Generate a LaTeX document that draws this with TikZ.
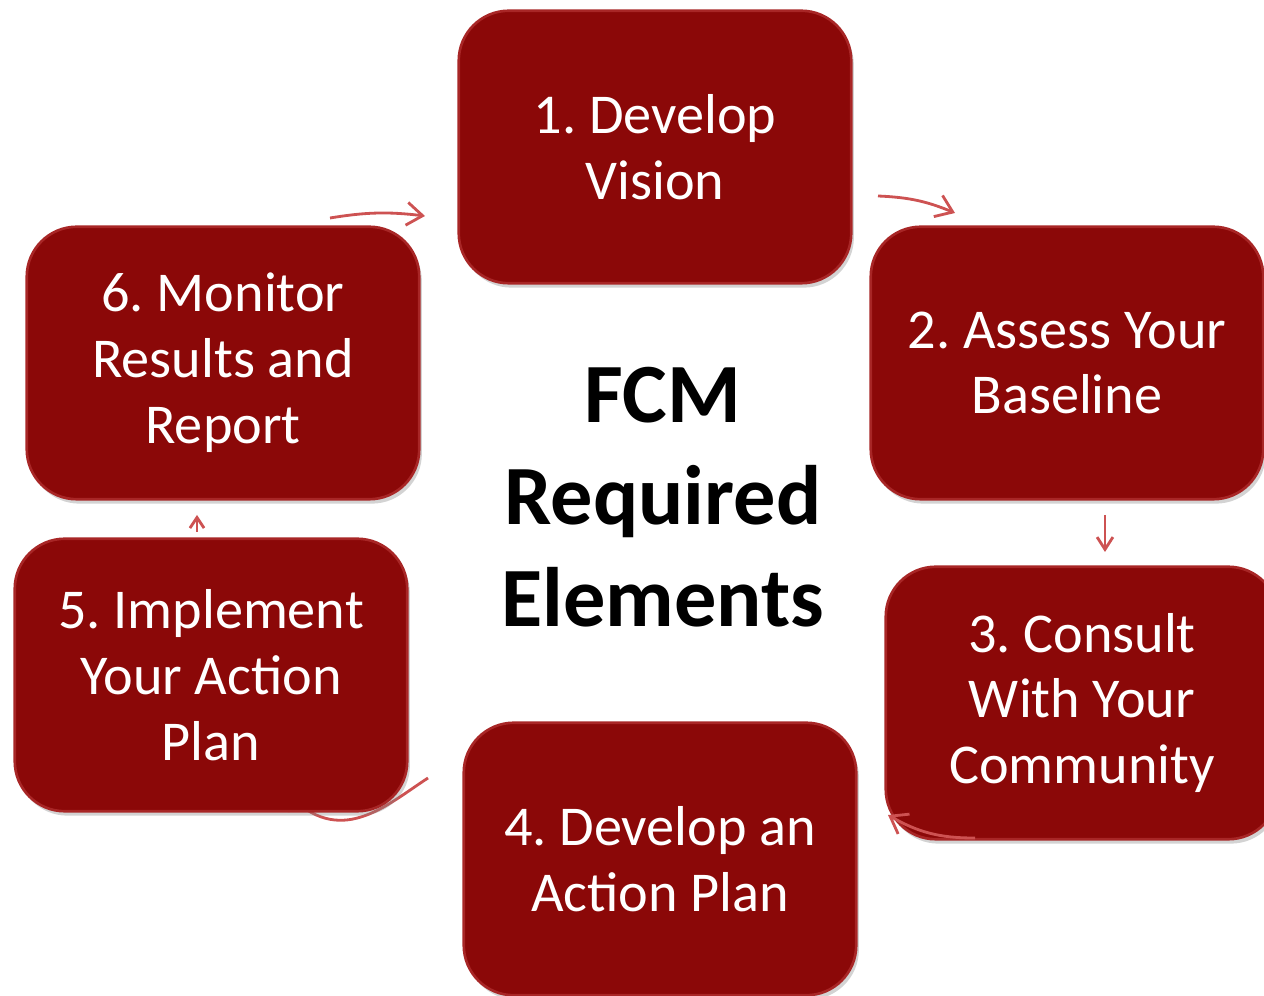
\documentclass[tikz,border=0pt]{standalone}
\usepackage{fontspec}
\setmainfont{Carlito}
\usepackage{tikz}
\usetikzlibrary{arrows.meta}
\usetikzlibrary{shadows}
\definecolor{boxred}{RGB}{139,8,8}
\definecolor{rimred}{RGB}{168,38,38}
\definecolor{arrred}{RGB}{205,82,82}
\tikzstyle{stepbox}=[draw=rimred,line width=1.5pt,fill=boxred,rounded corners=1cm,minimum width=7.85cm,minimum height=5.45cm,align=center,text=white,font=\fontsize{32}{37.5}\selectfont,drop shadow={opacity=0.35,shadow xshift=1.5pt,shadow yshift=-2.5pt}]
\tikzstyle{cyc}=[arrred,line width=1.6pt,-{Straight Barb[length=9pt,width=13pt]}]
\frenchspacing

\begin{document}
\begin{tikzpicture}
\useasboundingbox (0,0) rectangle (25.28,19.92);
% cycle arrows (behind the boxes)
\coordinate (a61) at (6.60,15.56);
\coordinate (b61) at (8.50,15.60);
\coordinate (a12) at (17.56,16.00);
\coordinate (b12) at (19.10,15.66);
\coordinate (a23) at (22.10,9.62);
\coordinate (b23) at (22.10,8.88);
\coordinate (a34) at (19.50,3.16);
\coordinate (b34) at (17.76,3.62);
\coordinate (a45) at (8.56,4.36);
\coordinate (b45) at (5.70,4.10);
\coordinate (a56) at (3.94,9.28);
\coordinate (b56) at (3.94,9.62);
\draw[cyc] (a61) to[bend left=8] (b61);
\draw[cyc] (a12) to[bend left=10] (b12);
\draw[cyc,-{Straight Barb[length=7pt,width=9pt]}] (a23) -- (b23);
\draw[cyc] (a45) .. controls (7.70,3.80) and (6.80,2.95) .. (b45);
\draw[cyc,-{Straight Barb[length=6pt,width=8pt]}] (a56) -- (b56);
% the six steps
\node [stepbox] (s1) at (13.10,16.98) {1. Develop\\Vision};
\node [stepbox] (s2) at (21.34,12.66) {2. Assess Your\\Baseline};
\node [stepbox] (s3) at (21.64,5.86) {3. Consult\\With Your\\Community};
\node [stepbox] (s4) at (13.20,2.74) {4. Develop an\\Action Plan};
\node [stepbox] (s5) at (4.22,6.42) {5. Implement\\Your Action\\Plan};
\node [stepbox] (s6) at (4.46,12.66) {6. Monitor\\Results and\\Report};
\node [align=center,font=\fontsize{48}{58}\selectfont\bfseries] (title) at (13.26,9.98) {FCM\\Required\\Elements};
% this one runs over the edge of step 3
\draw[cyc] (a34) to[bend left=15] (b34);
\end{tikzpicture}
\end{document}
